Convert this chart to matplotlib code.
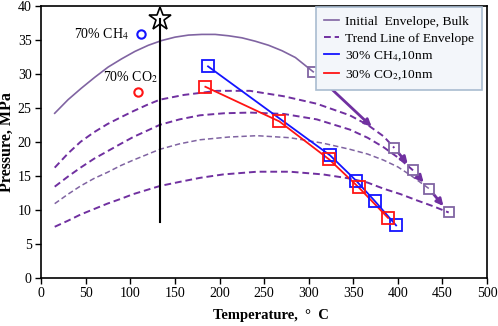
import matplotlib
matplotlib.use("Agg")
import matplotlib.pyplot as plt

plt.rcParams["font.family"] = ["Liberation Serif", "DejaVu Serif"]
plt.rcParams["mathtext.fontset"] = "stix"

PURPLE = "#7030A0"
PURPLE_MID = "#8064A2"
BLUE = "#1414FF"
RED = "#FF1414"

# initial bulk envelope
env_T = [15, 30, 45, 60, 75, 90, 105, 120, 135, 150, 165, 180, 195, 210, 225, 240, 255, 270, 285, 305]
env_P = [24.2, 26.2, 27.9, 29.5, 31.0, 32.2, 33.3, 34.2, 34.9, 35.4, 35.7, 35.8, 35.8, 35.6,
         35.3, 34.8, 34.2, 33.4, 32.4, 30.3]

# trend lines of envelope
tr1_T = [15, 30, 44, 59, 74, 89, 103, 118, 133, 160, 197, 234, 272, 309, 346, 366, 384, 396]
tr1_P = [16.2, 18.3, 20.0, 21.4, 22.6, 23.6, 24.5, 25.4, 26.2, 26.9, 27.5, 27.5, 26.7, 25.6,
         23.9, 22.5, 20.8, 19.1]
tr2_T = [15, 30, 44, 59, 74, 89, 103, 118, 133, 155, 178, 205, 234, 272, 309, 346, 366, 384, 401, 417]
tr2_P = [13.4, 14.9, 16.2, 17.5, 18.6, 19.7, 20.7, 21.6, 22.5, 23.3, 23.9, 24.2, 24.3, 24.1,
         23.3, 21.8, 20.6, 19.2, 17.6, 15.8]
tr3_T = [15, 30, 44, 59, 74, 89, 103, 118, 133, 155, 178, 210, 242, 279, 316, 346, 366, 384, 400, 414, 435]
tr3_P = [10.9, 12.3, 13.5, 14.6, 15.5, 16.5, 17.3, 18.1, 18.9, 19.7, 20.3, 20.7, 20.9, 20.6,
         19.8, 18.9, 18.2, 17.3, 16.3, 15.1, 13.1]
tr4_T = [15, 30, 44, 59, 74, 89, 103, 118, 133, 155, 178, 204, 242, 279, 316, 346, 366, 384, 403, 421, 440, 457]
tr4_P = [7.5, 8.4, 9.3, 10.1, 10.9, 11.6, 12.3, 12.9, 13.5, 14.1, 14.7, 15.2, 15.6, 15.6,
         15.2, 14.6, 14.0, 13.1, 12.3, 11.4, 10.5, 9.6]

# 10 nm confined mixtures
ch4_T = [187, 324, 353, 374, 398]
ch4_P = [31.1, 18.0, 14.3, 11.3, 7.7]
co2_T = [184, 267, 323, 356, 389]
co2_P = [28.1, 23.0, 17.4, 13.3, 8.8]

# single points
ch4_70 = (111.8, 35.8)
co2_70 = (108.7, 27.3)
crit_T = 133.4
crit_P = (8.2, 38.0)

fig = plt.figure(figsize=(4.98, 3.26), dpi=100)
ax = fig.add_axes([0.083, 0.148, 0.895, 0.834])
ax.set_xlim(0, 500); ax.set_ylim(0, 40)

DASH = (0, (3.5, 2))
ax.plot(env_T, env_P, color=PURPLE_MID, lw=1.2, label="Initial  Envelope, Bulk")
ax.plot(tr1_T, tr1_P, color=PURPLE, lw=1.4, ls=DASH, label="Trend Line of Envelope")
ax.plot(tr2_T, tr2_P, color=PURPLE, lw=1.4, ls=DASH)
ax.plot(tr3_T, tr3_P, color=PURPLE_MID, lw=1.1, ls=DASH)
ax.plot(tr4_T, tr4_P, color=PURPLE, lw=1.4, ls=DASH)

# end points of envelopes
ends = [(env_T[-1], env_P[-1]), (tr1_T[-1], tr1_P[-1]), (tr2_T[-1], tr2_P[-1]),
        (tr3_T[-1], tr3_P[-1]), (tr4_T[-1], tr4_P[-1])]
ax.plot([e[0] for e in ends], [e[1] for e in ends], ls="none", marker="s", ms=7,
        mfc="none", mec=PURPLE_MID, mew=1.3, zorder=4)

# arrows between successive envelope ends
for i in range(len(ends) - 1):
    (x0, y0), (x1, y1) = ends[i], ends[i + 1]
    if i == 0:
        x1, y1 = x0 + 0.72 * (x1 - x0), y0 + 0.72 * (y1 - y0)
        sb = 0
    else:
        sb = 6
    ax.annotate("", xy=(x1, y1), xytext=(x0, y0),
                arrowprops=dict(arrowstyle="-|>", color=PURPLE, lw=2,
                                mutation_scale=10, shrinkA=5, shrinkB=sb), zorder=3)

ax.plot(ch4_T, ch4_P, color=BLUE, lw=1.3, label="30% CH$_4$,10nm", zorder=5)
ax.plot(co2_T, co2_P, color=RED, lw=1.3, label="30% CO$_2$,10nm", zorder=5)
ax.plot(ch4_T, ch4_P, ls="none", marker="s", ms=9, mfc="none", mec=BLUE, mew=1.3, zorder=5)
ax.plot(co2_T, co2_P, ls="none", marker="s", ms=9, mfc="none", mec=RED, mew=1.3, zorder=5)

ax.plot(*ch4_70, ls="none", marker="o", ms=6, mfc="none", mec=BLUE, mew=1.5)
ax.plot(*co2_70, ls="none", marker="o", ms=6, mfc="none", mec=RED, mew=1.5)
ax.text(98, 35.9, "70% CH$_4$", fontsize=10, ha="right", va="center")
ax.text(100, 29.5, "70% CO$_2$", fontsize=10, ha="center", va="center")

ax.plot([crit_T, crit_T], crit_P, color="black", lw=1.5)
ax.plot(crit_T, crit_P[1], ls="none", marker="*", ms=17, mfc="none", mec="black", mew=1.2,
        clip_on=False)

ax.set_xticks(range(0, 501, 50))
ax.set_yticks(range(0, 41, 5))
ax.tick_params(direction="out", length=4, width=1, labelsize=10, pad=3)
for s in ax.spines.values():
    s.set_linewidth(1.2)

ax.set_xlabel("Temperature,  \u00b0  C", fontsize=10.5, fontweight="bold", labelpad=6, x=0.516)
ax.set_ylabel("Pressure, MPa", fontsize=11.5, fontweight="bold", labelpad=2)

leg = ax.legend(loc="upper right", bbox_to_anchor=(482 / 498, 1 - 7 / 326),
                bbox_transform=fig.transFigure, borderaxespad=0, fontsize=9.7,
                frameon=True, fancybox=False, handlelength=1.1, handletextpad=0.45,
                labelspacing=0.36, borderpad=0.6)
leg.get_frame().set_facecolor("#F3F6FA")
leg.get_frame().set_edgecolor("#A9BCD0")
leg.get_frame().set_alpha(1)
leg.get_frame().set_linewidth(1.2)
leg.set_zorder(10)

fig.savefig("out.png", dpi=100, facecolor="white")
